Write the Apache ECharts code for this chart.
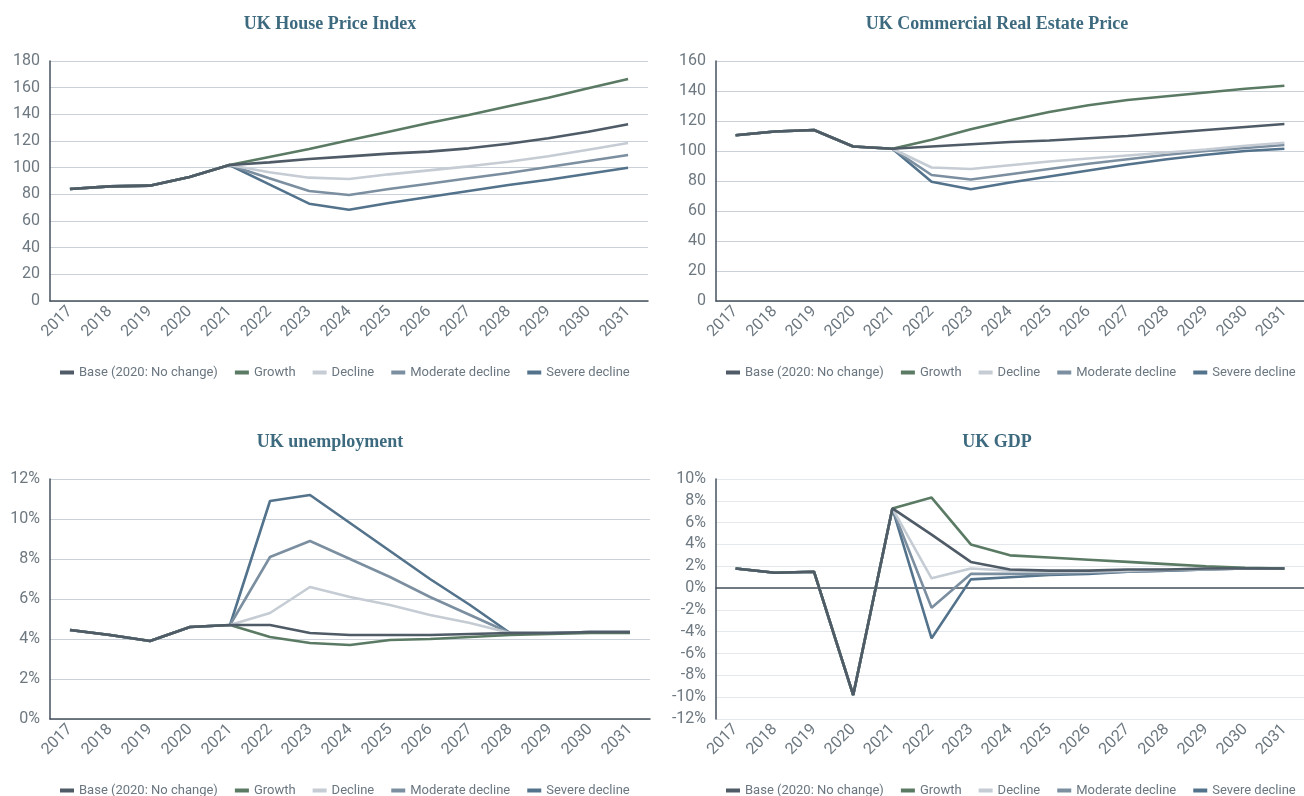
<!DOCTYPE html>
<html>
<head>
<meta charset="utf-8">
<script src="https://cdn.jsdelivr.net/npm/echarts@6/dist/echarts.min.js"></script>
<style>
html,body{margin:0;padding:0;background:#fff;}
#chart{width:1304px;height:796px;}
</style>
</head>
<body>
<div id="chart"></div>
<script>
const years = ['2017','2018','2019','2020','2021','2022','2023','2024','2025','2026','2027','2028','2029','2030','2031'];
const seriesNames = ['Base (2020: No change)','Growth','Decline','Moderate decline','Severe decline'];

// UK House Price Index
const hpiBase     = [84, 86, 86.5, 93, 102, 104, 106.5, 108.5, 110.5, 112, 114.5, 118, 122, 127, 132.5];
const hpiGrowth   = [84, 86, 86.5, 93, 102, 108, 114, 120.5, 127, 133.5, 139.5, 146, 152.5, 159.5, 166.5];
const hpiDecline  = [84, 86, 86.5, 93, 102, 96.5, 92.5, 91.5, 95, 98, 101, 104.5, 108.5, 113.5, 118.5];
const hpiModerate = [84, 86, 86.5, 93, 102, 92, 82.5, 79.5, 84, 88, 92, 96, 100.5, 105, 109.5];
const hpiSevere   = [84, 86, 86.5, 93, 102, 87.5, 73, 68.5, 73.5, 78, 82.5, 87, 91, 95.5, 100];

// UK Commercial Real Estate Price
const crePBase     = [110.5, 113, 114, 103, 101.5, 103, 104.5, 106, 107, 108.5, 110, 112, 114, 116, 118];
const crePGrowth   = [110.5, 113, 114, 103, 101.5, 107.5, 114.5, 120.5, 126, 130.5, 134, 136.5, 139, 141.5, 143.5];
const crePDecline  = [110.5, 113, 114, 103, 101.5, 89, 88, 90.5, 93, 95, 97, 99, 101, 103.5, 105.5];
const crePModerate = [110.5, 113, 114, 103, 101.5, 84, 81, 84.5, 88, 91.5, 94.5, 97.5, 100, 102, 104];
const crePSevere   = [110.5, 113, 114, 103, 101.5, 79.5, 74.5, 79, 83, 87, 91, 94.5, 97.5, 100, 101.5];

// UK unemployment (%)
const unBase     = [4.45, 4.2, 3.9, 4.6, 4.7, 4.7, 4.3, 4.2, 4.2, 4.2, 4.25, 4.3, 4.3, 4.35, 4.35];
const unGrowth   = [4.45, 4.2, 3.9, 4.6, 4.7, 4.1, 3.8, 3.7, 3.95, 4.0, 4.1, 4.2, 4.25, 4.3, 4.3];
const unDecline  = [4.45, 4.2, 3.9, 4.6, 4.7, 5.3, 6.6, 6.1, 5.7, 5.2, 4.8, 4.3, 4.3, 4.35, 4.35];
const unModerate = [4.45, 4.2, 3.9, 4.6, 4.7, 8.1, 8.9, 8.0, 7.1, 6.1, 5.2, 4.3, 4.3, 4.35, 4.35];
const unSevere   = [4.45, 4.2, 3.9, 4.6, 4.7, 10.9, 11.2, 9.8, 8.4, 7.0, 5.7, 4.3, 4.3, 4.35, 4.35];

// UK GDP (%)
const gdpBase     = [1.8, 1.4, 1.5, -9.8, 7.3, 4.9, 2.4, 1.7, 1.6, 1.6, 1.7, 1.7, 1.8, 1.8, 1.8];
const gdpGrowth   = [1.8, 1.4, 1.5, -9.8, 7.3, 8.3, 4.0, 3.0, 2.8, 2.6, 2.4, 2.2, 2.0, 1.85, 1.8];
const gdpDecline  = [1.8, 1.4, 1.5, -9.8, 7.3, 0.9, 1.8, 1.6, 1.5, 1.5, 1.6, 1.7, 1.75, 1.8, 1.8];
const gdpModerate = [1.8, 1.4, 1.5, -9.8, 7.3, -1.8, 1.3, 1.3, 1.3, 1.4, 1.5, 1.6, 1.7, 1.8, 1.8];
const gdpSevere   = [1.8, 1.4, 1.5, -9.8, 7.3, -4.6, 0.8, 1.0, 1.2, 1.3, 1.5, 1.6, 1.7, 1.8, 1.8];

const colors = {
  'Base (2020: No change)': '#4f5b66',
  'Growth': '#5a7a64',
  'Decline': '#c5ccd4',
  'Moderate decline': '#7b8fa0',
  'Severe decline': '#53728b'
};

const panels = [
  {title:'UK House Price Index', data:[hpiBase,hpiGrowth,hpiDecline,hpiModerate,hpiSevere], min:0, max:180, interval:20, pct:false,
   grid:{left:50, top:61, width:598, height:240}, titleX:325, titleY:10, legendX:60, legendY:366, gridColor:'#c9d0d7'},
  {title:'UK Commercial Real Estate Price', data:[crePBase,crePGrowth,crePDecline,crePModerate,crePSevere], min:0, max:160, interval:20, pct:false,
   grid:{left:716, top:61, width:599, height:240}, titleX:992, titleY:10, legendX:726, legendY:366, gridColor:'#c9d0d7'},
  {title:'UK unemployment', data:[unBase,unGrowth,unDecline,unModerate,unSevere], min:0, max:12, interval:2, pct:true,
   grid:{left:50, top:479, width:600, height:240}, titleX:325, titleY:428, legendX:60, legendY:784, gridColor:'#c9d0d7'},
  {title:'UK GDP', data:[gdpBase,gdpGrowth,gdpDecline,gdpModerate,gdpSevere], min:-12, max:10, interval:2, pct:true,
   grid:{left:716, top:479, width:599, height:240}, titleX:992, titleY:428, legendX:726, legendY:784, gridColor:'#e4e8ec', zeroLine:true}
];

const axisFont = "'Roboto','Liberation Sans',sans-serif";
const option = {
  animation:false,
  backgroundColor:'#fff',
  textStyle:{fontFamily:axisFont},
  title:[], legend:[], grid:[], xAxis:[], yAxis:[], series:[]
};

const drawOrder = [4,3,2,1,0];
panels.forEach((p, i) => {
  option.title.push({
    text:p.title, left:p.titleX, top:p.titleY, textAlign:'center',
    textStyle:{fontFamily:"'Liberation Serif','DejaVu Serif',serif", fontSize:18, fontWeight:'bold', color:'#3d6a7f'}
  });
  option.legend.push({
    data:seriesNames, left:p.legendX, top:p.legendY, padding:0, width:600,
    itemWidth:14, itemHeight:4, itemGap:17,
    icon:'rect', textStyle:{fontSize:13, color:'#6a7680', fontFamily:axisFont}
  });
  option.grid.push(Object.assign({containLabel:false}, p.grid));
  const xIdx = option.xAxis.length;
  option.xAxis.push({
    type:'category', gridIndex:i, data:years, boundaryGap:true,
    axisLine:{show:true, onZero:false, lineStyle:{color:'#46525d', width:1.5}},
    axisTick:{show:false},
    axisLabel:{interval:0, rotate:45, fontSize:16, color:'#6d7880', margin:8},
    splitLine:{show:false}
  });
  if (p.zeroLine) {
    option.xAxis[xIdx].axisLine.show = false;
    option.xAxis.push({
      type:'category', gridIndex:i, data:years, boundaryGap:true, position:'bottom',
      axisLine:{show:true, onZero:true, lineStyle:{color:'#46525d', width:1.5}},
      axisTick:{show:false}, axisLabel:{show:false}, splitLine:{show:false}
    });
  }
  option.yAxis.push({
    type:'value', gridIndex:i, min:p.min, max:p.max, interval:p.interval,
    axisLine:{show:true, lineStyle:{color:'#46525d', width:1.5}},
    axisTick:{show:false},
    axisLabel:{fontSize:16, color:'#6d7880', margin:10, formatter: p.pct ? '{value}%' : '{value}'},
    splitLine:{show:true, lineStyle:{color:p.gridColor, width:1}}
  });
  drawOrder.forEach(k => {
    const name = seriesNames[k];
    option.series.push({
      type:'line', name:name, xAxisIndex:xIdx, yAxisIndex:i, data:p.data[k],
      symbol:'none', smooth:false,
      lineStyle:{color:colors[name], width:2.6},
      itemStyle:{color:colors[name]}
    });
  });
});

const chart = echarts.init(document.getElementById('chart'), null, {renderer:'canvas'});
chart.setOption(option);
</script>
</body>
</html>
